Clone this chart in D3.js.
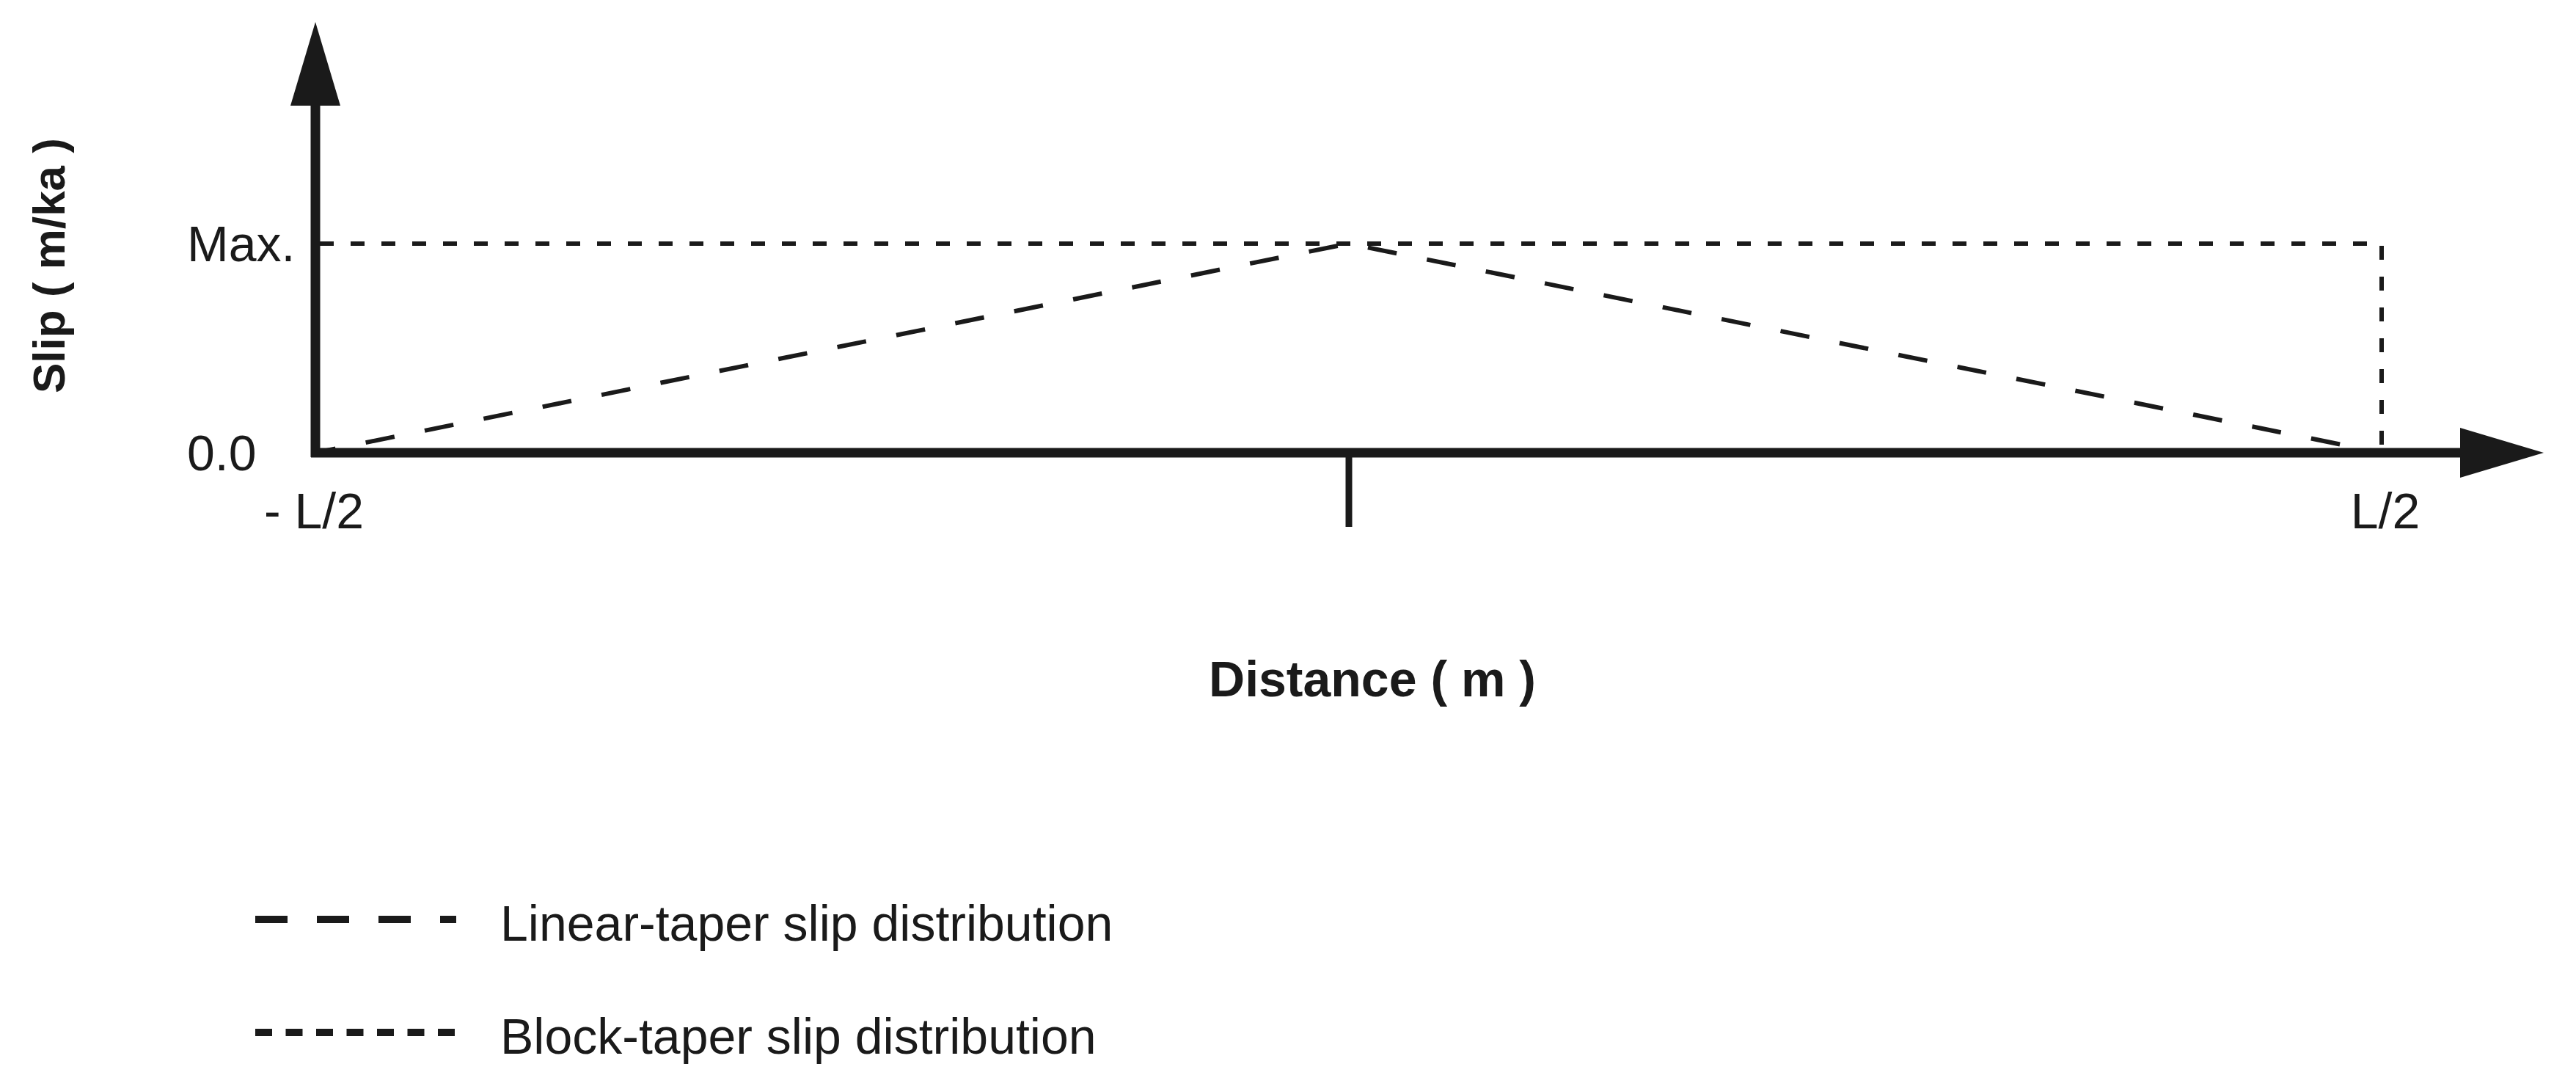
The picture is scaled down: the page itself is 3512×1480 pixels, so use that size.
<!DOCTYPE html>
<html>
<head>
<meta charset="utf-8">
<script src="https://cdn.jsdelivr.net/npm/d3@7"></script>
<style>
  body { margin: 0; background: #fff; }
  text { font-family: "Liberation Sans", Arial, Helvetica, sans-serif; fill: #1a1a1a; }
</style>
</head>
<body>
<div id="container"></div>
<script>
/* CONSTANTS AND GLOBALS */
const width = 3512,
  height = 1480,
  ink = "#1a1a1a";

// distance along the fault, in units of L/2
const distanceTicks = [-1, 0, 1];
const distanceLabels = ["- L/2", "", "L/2"];

// slip, as fraction of max
const slipTicks = [0, 1];
const slipLabels = ["0.0", "Max."];

// linear-taper slip distribution
const linearDistance = [-1, 0, 1];
const linearSlip = [0, 1, 0];

// block-taper slip distribution
const blockDistance = [-1, 1, 1];
const blockSlip = [1, 1, 0];

const legendLabels = ["Linear-taper slip distribution", "Block-taper slip distribution"];

/* SCALES */
const xScale = d3.scaleLinear().domain([-1, 1]).range([430, 3247]);
const yScale = d3.scaleLinear().domain([0, 1]).range([617, 332]);

const svg = d3.select("#container")
  .append("svg")
  .attr("width", width)
  .attr("height", height);

const line = d3.line()
  .x(d => xScale(d[0]))
  .y(d => yScale(d[1]));

// + SERIES
svg.append("path")
  .attr("d", line(d3.zip(blockDistance, blockSlip)))
  .attr("fill", "none")
  .attr("stroke", ink)
  .attr("stroke-width", 6)
  .attr("stroke-dasharray", "19 23")
  .attr("stroke-dashoffset", -6);

svg.append("path")
  .attr("d", line(d3.zip(linearDistance, linearSlip)))
  .attr("fill", "none")
  .attr("stroke", ink)
  .attr("stroke-width", 6)
  .attr("stroke-dasharray", "40 42")
  .attr("stroke-dashoffset", 12);

// + AXES (thick arrows)
const x0 = xScale(-1), y0 = yScale(0);
const yTip = 30, xTip = 3468, headLen = 114, headHalf = 34;

svg.append("line")
  .attr("x1", x0).attr("y1", y0 + 6)
  .attr("x2", x0).attr("y2", yTip + headLen - 2)
  .attr("stroke", ink).attr("stroke-width", 13);

svg.append("line")
  .attr("x1", x0 - 6).attr("y1", y0)
  .attr("x2", xTip - headLen + 2).attr("y2", y0)
  .attr("stroke", ink).attr("stroke-width", 13);

svg.append("path")
  .attr("d", `M${x0},${yTip} L${x0 - headHalf},${yTip + headLen} L${x0 + headHalf},${yTip + headLen} Z`)
  .attr("fill", ink);

svg.append("path")
  .attr("d", `M${xTip},${y0} L${xTip - headLen},${y0 - headHalf} L${xTip - headLen},${y0 + headHalf} Z`)
  .attr("fill", ink);

// centre tick from the d3 axis
const xAxis = d3.axisBottom(xScale)
  .tickValues(distanceTicks.filter(d => d === 0))
  .tickSize(101)
  .tickFormat("");

const xAxisG = svg.append("g")
  .attr("transform", `translate(0,${y0})`)
  .call(xAxis);
xAxisG.select(".domain").remove();
xAxisG.selectAll(".tick line")
  .attr("stroke", ink)
  .attr("stroke-width", 9);

// + TICK LABELS
svg.selectAll(".xlabel")
  .data(distanceTicks.filter((d, i) => distanceLabels[i] !== ""))
  .join("text")
  .attr("class", "xlabel")
  .attr("x", d => d < 0 ? xScale(d) - 70 : xScale(d) + 5)
  .attr("y", 720)
  .attr("text-anchor", d => d < 0 ? "start" : "middle")
  .attr("font-size", 68)
  .text(d => distanceLabels[distanceTicks.indexOf(d)]);

svg.selectAll(".ylabel")
  .data(slipTicks)
  .join("text")
  .attr("class", "ylabel")
  .attr("x", 255)
  .attr("y", d => yScale(d) + 24)
  .attr("font-size", 68)
  .text((d, i) => slipLabels[i]);

// + AXIS TITLES
svg.append("text")
  .attr("x", 1871)
  .attr("y", 949)
  .attr("text-anchor", "middle")
  .attr("font-size", 68)
  .attr("font-weight", "bold")
  .text("Distance ( m )");

svg.append("text")
  .attr("transform", "translate(88,362) rotate(-90)")
  .attr("text-anchor", "middle")
  .attr("font-size", 62)
  .attr("font-weight", "bold")
  .text("Slip ( m/ka )");

// + LEGEND
const legendY = [1253, 1407];
const legendDash = ["44 40", "23 18.5"];

const legend = svg.selectAll(".legend")
  .data(legendLabels)
  .join("g")
  .attr("class", "legend")
  .attr("transform", (d, i) => `translate(0,${legendY[i]})`);

legend.append("line")
  .attr("x1", 348).attr("x2", 622)
  .attr("y1", 0).attr("y2", 0)
  .attr("stroke", ink)
  .attr("stroke-width", 10)
  .attr("stroke-dasharray", (d, i) => legendDash[i]);

legend.append("text")
  .attr("x", 682)
  .attr("y", 29)
  .attr("font-size", 68)
  .text(d => d);
</script>
</body>
</html>
